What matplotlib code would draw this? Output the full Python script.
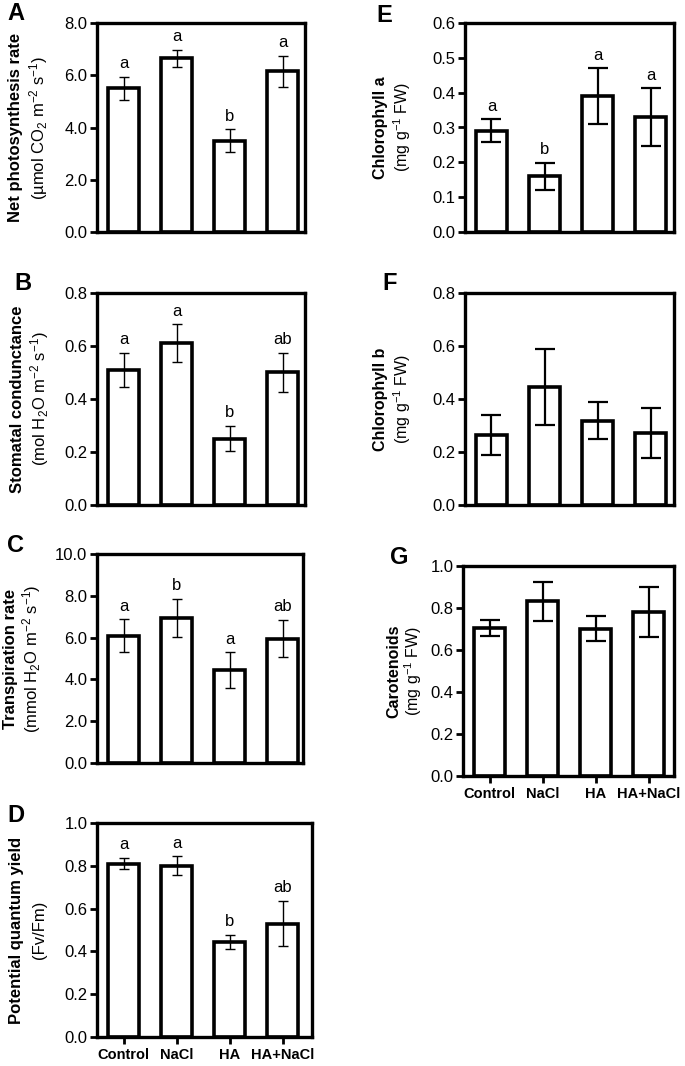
import numpy as np
import matplotlib.pyplot as plt
from matplotlib.ticker import FormatStrFormatter

plt.rcParams['font.family'] = ['Liberation Sans', 'DejaVu Sans']
plt.rcParams['mathtext.fontset'] = 'custom'
plt.rcParams['mathtext.rm'] = 'Liberation Sans'
plt.rcParams['mathtext.default'] = 'regular'

groups = ['Control', 'NaCl', 'HA', 'HA+NaCl']

# means, error (half-width), significance letters
photo = [5.5, 6.65, 3.5, 6.15]
photo_err = [0.45, 0.33, 0.43, 0.6]
photo_let = ['a', 'a', 'b', 'a']

stom = [0.51, 0.61, 0.25, 0.50]
stom_err = [0.065, 0.072, 0.048, 0.075]
stom_let = ['a', 'a', 'b', 'ab']

trans = [6.1, 6.95, 4.45, 5.95]
trans_err = [0.78, 0.9, 0.85, 0.9]
trans_let = ['a', 'b', 'a', 'ab']

fvfm = [0.81, 0.80, 0.445, 0.53]
fvfm_err = [0.027, 0.045, 0.033, 0.107]
fvfm_let = ['a', 'a', 'b', 'ab']

chla = [0.29, 0.16, 0.39, 0.33]
chla_err = [0.033, 0.038, 0.08, 0.082]
chla_let = ['a', 'b', 'a', 'a']

chlb = [0.265, 0.445, 0.318, 0.272]
chlb_err = [0.075, 0.142, 0.07, 0.094]

carot = [0.705, 0.832, 0.702, 0.782]
carot_err = [0.038, 0.093, 0.06, 0.118]

W, H = 685, 1066
fig = plt.figure(figsize=(W / 100, H / 100), dpi=100)


def panel(box, vals, err, letters, yticks, title, line1, line2, lab_xy,
          lx1, lx2, thick_err=False, xlabels=False, lsize=12):
    l, r, t, b = box
    ax = fig.add_axes([l / W, 1 - b / H, (r - l) / W, (b - t) / H])
    x = np.arange(len(vals))
    ax.bar(x, vals, width=0.57, color='white', edgecolor='black',
           linewidth=2.6, zorder=2)
    if thick_err:
        ax.errorbar(x, vals, yerr=err, fmt='none', ecolor='black',
                    elinewidth=1.6, capsize=7, capthick=1.6, zorder=3)
    else:
        ax.errorbar(x, vals, yerr=err, fmt='none', ecolor='black',
                    elinewidth=1.0, capsize=3.5, capthick=1.0, zorder=3)
    if letters:
        for xi, v, e, s in zip(x, vals, err, letters):
            ax.annotate(s, (xi, v + e), xytext=(0, 4), textcoords='offset points',
                        ha='center', va='bottom', fontsize=12)
    ax.set_xlim(-0.5, -0.5 + (r - l) / 53.0)
    ax.set_ylim(0, yticks[-1])
    ax.set_yticks(yticks)
    ax.yaxis.set_major_formatter(FormatStrFormatter('%.1f'))
    for sp in ax.spines.values():
        sp.set_linewidth(2.4)
    ax.tick_params(axis='y', direction='out', length=5, width=2, labelsize=12, pad=2)
    if xlabels:
        ax.set_xticks(x)
        ax.set_xticklabels(groups, fontweight='bold', fontsize=10.5)
        ax.tick_params(axis='x', direction='out', length=5, width=2, pad=3)
    else:
        ax.set_xticks([])
    yc = (t + b) / 2
    fig.text(lx1 / W, 1 - yc / H, line1, rotation=90, ha='center', va='center',
             fontweight='bold', fontsize=lsize)
    fig.text(lx2 / W, 1 - yc / H, line2, rotation=90, ha='center', va='center',
             fontsize=lsize)
    fig.text(lab_xy[0] / W, 1 - lab_xy[1] / H, title, ha='center', va='center',
             fontweight='bold', fontsize=17)
    return ax


panel((97, 305, 23, 232), photo, photo_err, photo_let, [0, 2, 4, 6, 8], 'A',
      'Net photosynthesis rate', '(\u00b5mol CO$_2$ m$^{-2}$ s$^{-1}$)', (16, 14), 16, 39)
panel((97, 305, 293, 505), stom, stom_err, stom_let, [0, 0.2, 0.4, 0.6, 0.8], 'B',
      'Stomatal condunctance', '(mol H$_2$O m$^{-2}$ s$^{-1}$)', (23, 284), 18, 40)
panel((97, 303, 554, 763), trans, trans_err, trans_let, [0, 2, 4, 6, 8, 10], 'C',
      'Transpiration rate', '(mmol H$_2$O m$^{-2}$ s$^{-1}$)', (16, 545), 11, 32)
panel((97, 312, 823, 1037), fvfm, fvfm_err, fvfm_let, [0, 0.2, 0.4, 0.6, 0.8, 1.0], 'D',
      'Potential quantum yield', '(Fv/Fm)', (16, 816), 17, 40, xlabels=True)
panel((465, 674, 23, 232), chla, chla_err, chla_let, [0, 0.1, 0.2, 0.3, 0.4, 0.5, 0.6], 'E',
      'Chlorophyll a', '(mg g$^{-1}$ FW)', (384, 15), 380, 402, thick_err=True, lsize=11.5)
panel((465, 674, 293, 505), chlb, chlb_err, None, [0, 0.2, 0.4, 0.6, 0.8], 'F',
      'Chlorophyll b', '(mg g$^{-1}$ FW)', (390, 283), 380, 402, thick_err=True, lsize=11.5)
panel((463, 674, 566, 776), carot, carot_err, None, [0, 0.2, 0.4, 0.6, 0.8, 1.0], 'G',
      'Carotenoids', '(mg g$^{-1}$ FW)', (399, 557), 394, 413, thick_err=True,
      xlabels=True, lsize=11.5)

fig.savefig('out.png', dpi=100)
